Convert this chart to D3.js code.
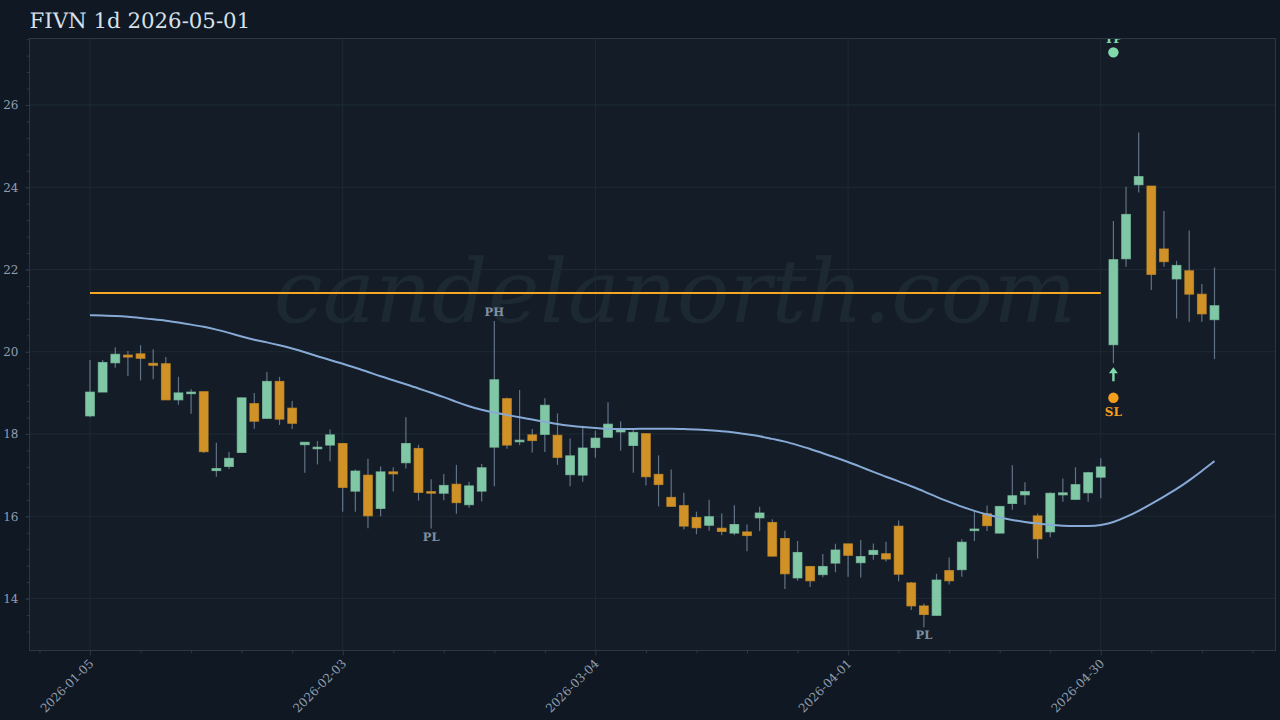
<!DOCTYPE html>
<html>
<head>
<meta charset="utf-8">
<script src="https://cdn.jsdelivr.net/npm/d3@7"></script>
<style>
  html, body { margin: 0; padding: 0; background: #0f1823; }
  text { text-rendering: geometricPrecision; }
</style>
</head>
<body>
<div id="canvas"></div>
<script>
const opens = [18.44,19.02,19.73,19.92,19.95,19.72,19.71,18.83,18.98,19.03,17.11,17.21,17.55,18.74,18.38,19.28,18.63,17.74,17.64,17.73,
  17.77,16.61,17.00,16.19,17.08,17.30,17.65,16.60,16.56,16.78,16.28,16.61,17.68,18.86,17.81,17.98,17.99,17.97,17.01,17.00,
  17.67,17.92,18.05,17.72,18.01,17.02,16.46,16.26,15.97,15.78,15.71,15.59,15.62,15.96,15.85,15.46,14.50,14.78,14.58,14.86,
  15.33,14.87,15.07,15.09,15.76,14.38,13.82,13.59,14.68,14.70,15.65,16.06,15.59,16.31,16.52,16.01,15.62,16.52,16.41,16.57,
  16.95,20.17,22.26,24.06,24.03,22.50,21.77,21.97,21.40,20.78];
const closes = [19.02,19.74,19.94,19.87,19.84,19.67,18.83,19.00,19.02,17.57,17.16,17.41,18.88,18.31,19.28,18.36,18.26,17.80,17.68,17.98,
  16.70,17.10,16.01,17.08,17.03,17.77,16.58,16.56,16.75,16.33,16.74,17.18,19.32,17.73,17.85,17.84,18.70,17.43,17.47,17.66,
  17.90,18.24,18.11,18.04,16.96,16.77,16.24,15.76,15.72,15.99,15.63,15.80,15.53,16.08,15.03,14.60,15.12,14.43,14.78,15.18,
  15.05,15.02,15.17,14.96,14.59,13.82,13.61,14.45,14.43,15.37,15.69,15.77,16.24,16.50,16.60,15.45,16.56,16.57,16.77,17.06,
  17.20,22.24,23.34,24.26,21.88,22.19,22.10,21.40,20.92,21.12];
const highs = [19.80,19.80,20.11,20.02,20.16,20.06,19.87,19.39,19.09,19.03,17.79,17.56,18.89,19.00,19.51,19.39,18.80,17.80,17.83,18.11,
  17.77,17.14,17.40,17.21,17.19,18.41,17.74,16.90,17.03,17.25,16.84,17.27,20.75,18.89,19.07,18.12,18.87,18.50,17.89,18.20,
  18.08,18.77,18.31,18.12,18.01,17.48,17.14,16.57,16.11,16.40,16.07,16.27,15.80,16.23,15.93,15.65,15.40,14.78,15.08,15.33,
  15.33,15.42,15.34,15.38,15.90,14.40,13.88,14.60,15.00,15.44,16.14,16.26,16.24,17.24,16.83,16.07,16.58,16.92,17.19,17.08,
  17.41,23.18,24.01,25.33,24.03,23.42,22.21,22.95,21.65,22.05];
const lows = [18.41,19.02,19.61,19.41,19.30,19.33,18.83,18.71,18.49,17.54,16.96,17.15,17.55,18.13,18.38,18.22,18.12,17.06,17.26,17.34,
  16.11,16.11,15.71,16.00,16.60,17.16,16.38,15.70,16.39,16.06,16.21,16.36,16.73,17.64,17.73,17.55,17.56,17.25,16.73,16.84,
  17.42,17.92,17.59,17.06,16.75,16.24,16.24,15.68,15.56,15.65,15.54,15.54,15.15,15.64,15.02,14.23,14.43,14.28,14.52,14.64,
  14.53,14.51,14.94,14.90,14.42,13.72,13.30,13.59,14.34,14.53,15.40,15.64,15.59,16.16,16.28,14.97,15.49,16.35,16.41,16.35,
  16.44,19.72,22.07,23.87,21.50,22.07,20.81,20.73,20.73,19.82];
const maLine = [20.89,20.88,20.87,20.85,20.82,20.79,20.76,20.71,20.66,20.61,20.54,20.46,20.37,20.29,20.23,20.16,20.08,19.99,19.89,19.80,
  19.71,19.61,19.51,19.40,19.31,19.21,19.11,19.00,18.90,18.78,18.67,18.59,18.52,18.46,18.41,18.35,18.30,18.24,18.20,18.17,
  18.15,18.12,18.12,18.12,18.13,18.13,18.13,18.12,18.11,18.09,18.07,18.04,17.99,17.95,17.88,17.82,17.73,17.64,17.53,17.43,
  17.32,17.20,17.08,16.96,16.85,16.73,16.61,16.47,16.35,16.23,16.13,16.04,15.97,15.91,15.86,15.82,15.79,15.77,15.76,15.76,
  15.78,15.85,15.98,16.13,16.30,16.48,16.66,16.87,17.10,17.34];
const levelPrice = 21.43;
const levelStart = 0;
const levelEnd = 80;
const tpPoint = { i: 81, price: 27.28 };
const slPoint = { i: 81, price: 18.88 };
const pivotLabels = [
  { i: 32, price: 20.75, text: "PH" },
  { i: 27, price: 15.70, text: "PL" },
  { i: 66, price: 13.30, text: "PL" }
];
const xTickIdx = [0, 20, 40, 60, 80];
const xTickLabels = ["2026-01-05", "2026-02-03", "2026-03-04", "2026-04-01", "2026-04-30"];
const yTicks = [14, 16, 18, 20, 22, 24, 26];

const width = 1280;
const height = 720;
const margin = { top: 38.5, left: 29.5, bottom: 69.5, right: 4.5 };
const iwidth = width - margin.left - margin.right;
const iheight = height - margin.top - margin.bottom;
const serif = "'DejaVu Serif', serif";

const green = "#80c8a5";
const orange = "#d09127";

const svg = d3.select("#canvas").append("svg")
  .attr("width", width)
  .attr("height", height)
  .style("display", "block")
  .style("background", "#0f1823");

svg.append("text")
  .attr("x", 29.5)
  .attr("y", 28)
  .attr("font-family", serif)
  .attr("font-size", 21.3)
  .attr("fill", "#d8e1ea")
  .text("FIVN 1d 2026-05-01");

const g = svg.append("g").attr("transform", `translate(${margin.left},${margin.top})`);

svg.append("clipPath").attr("id", "plot-clip")
  .append("rect").attr("width", iwidth).attr("height", iheight);

const x = d3.scaleLinear().domain([-4.79, 93.83]).range([0, iwidth]);
const y = d3.scaleLinear().domain([12.736, 27.617]).range([iheight, 0]);

g.append("rect")
  .attr("width", iwidth)
  .attr("height", iheight)
  .attr("fill", "#131c27");

// grid
g.append("g").selectAll("line").data(yTicks).enter().append("line")
  .attr("x1", 0).attr("x2", iwidth)
  .attr("y1", d => y(d)).attr("y2", d => y(d))
  .attr("stroke", "#1d2a35");
g.append("g").selectAll("line").data(xTickIdx).enter().append("line")
  .attr("y1", 0).attr("y2", iheight)
  .attr("x1", d => x(d)).attr("x2", d => x(d))
  .attr("stroke", "#1d2a35");

// watermark
g.append("text")
  .attr("x", 645.5)
  .attr("y", 283)
  .attr("text-anchor", "middle")
  .attr("font-family", serif)
  .attr("font-style", "italic")
  .attr("font-size", 87.8)
  .attr("fill", "#1d2932")
  .text("candelanorth.com");

const plot = g.append("g").attr("clip-path", "url(#plot-clip)");
const idx = d3.range(opens.length);

plot.append("line")
  .attr("x1", x(levelStart)).attr("x2", x(levelEnd))
  .attr("y1", y(levelPrice)).attr("y2", y(levelPrice))
  .attr("stroke", "#f5a623")
  .attr("stroke-width", 2);

// wicks then bodies
plot.append("g").selectAll("line").data(idx).enter().append("line")
  .attr("x1", i => x(i)).attr("x2", i => x(i))
  .attr("y1", i => y(highs[i])).attr("y2", i => y(lows[i]))
  .attr("stroke", "#8ea2b8")
  .attr("stroke-opacity", 0.65)
  .attr("stroke-width", 1.2);

const bodyWidth = 8.8;
plot.append("g").selectAll("rect").data(idx).enter().append("rect")
  .attr("x", i => x(i) - bodyWidth / 2)
  .attr("width", bodyWidth)
  .attr("y", i => y(Math.max(opens[i], closes[i])))
  .attr("height", i => Math.abs(y(opens[i]) - y(closes[i])))
  .attr("fill", i => closes[i] >= opens[i] ? green : orange)
  .attr("stroke", i => closes[i] >= opens[i] ? green : orange)
  .attr("stroke-opacity", 0.7)
  .attr("stroke-width", 1);

const ma = d3.line().x((d, i) => x(i)).y(d => y(d)).curve(d3.curveBasis);
plot.append("path")
  .attr("d", ma(maLine))
  .attr("fill", "none")
  .attr("stroke", "#86a9d6")
  .attr("stroke-width", 2);

// trade markers
plot.append("circle")
  .attr("cx", x(tpPoint.i)).attr("cy", y(tpPoint.price)).attr("r", 5.2)
  .attr("fill", "#80d8ab");
plot.append("text")
  .attr("x", x(tpPoint.i)).attr("y", y(tpPoint.price) - 9.2)
  .attr("text-anchor", "middle")
  .attr("font-family", serif).attr("font-size", 12).attr("font-weight", "bold")
  .attr("fill", "#80d8ab")
  .text("TP");
plot.append("circle")
  .attr("cx", x(slPoint.i)).attr("cy", y(slPoint.price)).attr("r", 5.2)
  .attr("fill", "#f59e1c");
plot.append("text")
  .attr("x", x(slPoint.i)).attr("y", y(slPoint.price) + 18.5)
  .attr("text-anchor", "middle")
  .attr("font-family", serif).attr("font-size", 12).attr("font-weight", "bold")
  .attr("fill", "#f59e1c")
  .text("SL");

// entry arrow sits just under the signal candle
const arrowX = x(slPoint.i);
const arrowTop = y(lows[slPoint.i]) + 4;
plot.append("line")
  .attr("x1", arrowX).attr("x2", arrowX)
  .attr("y1", arrowTop + 3).attr("y2", arrowTop + 14)
  .attr("stroke", "#80d8ab")
  .attr("stroke-width", 2.4);
plot.append("path")
  .attr("d", `M${arrowX},${arrowTop} L${arrowX + 4.5},${arrowTop + 6} L${arrowX - 4.5},${arrowTop + 6} Z`)
  .attr("fill", "#80d8ab");

// pivot labels
plot.append("g").selectAll("text").data(pivotLabels).enter().append("text")
  .attr("x", d => x(d.i))
  .attr("y", d => d.text === "PH" ? y(d.price) - 4.5 : y(d.price) + 12)
  .attr("text-anchor", "middle")
  .attr("font-family", serif).attr("font-size", 11.5).attr("font-weight", "bold")
  .attr("fill", "#808fa2")
  .text(d => d.text);

// axes
const yAxis = g.append("g")
  .call(d3.axisLeft(y).tickValues(yTicks).tickSize(4).tickPadding(7).tickFormat(d3.format("d")));
const yMinor = g.append("g")
  .call(d3.axisLeft(y).tickValues(d3.range(13, 27.6, 0.4).map(d => +(d + 0.2).toFixed(1))).tickSize(3).tickFormat(""));
const xAxis = g.append("g")
  .attr("transform", `translate(0,${iheight})`)
  .call(d3.axisBottom(x).tickValues(xTickIdx).tickSize(5).tickFormat((d, i) => xTickLabels[i]));
const xMinor = g.append("g")
  .attr("transform", `translate(0,${iheight})`)
  .call(d3.axisBottom(x).tickValues(d3.range(-4, 93, 4).filter(d => d % 20 !== 0)).tickSize(3).tickFormat(""));

[yAxis, yMinor, xAxis, xMinor].forEach(a => {
  a.selectAll(".domain").remove();
  a.selectAll("line").attr("stroke", "#2a3846");
  a.selectAll("text")
    .attr("font-family", serif)
    .attr("font-size", 12)
    .attr("fill", "#8f9dad");
});

xAxis.selectAll("text")
  .attr("text-anchor", "end")
  .attr("dx", "0.35em")
  .attr("dy", "0.2em")
  .attr("transform", "translate(-6.5,9.5) rotate(-45)");

g.append("rect")
  .attr("width", iwidth)
  .attr("height", iheight)
  .attr("fill", "none")
  .attr("stroke", "#2a3846");
</script>
</body>
</html>
